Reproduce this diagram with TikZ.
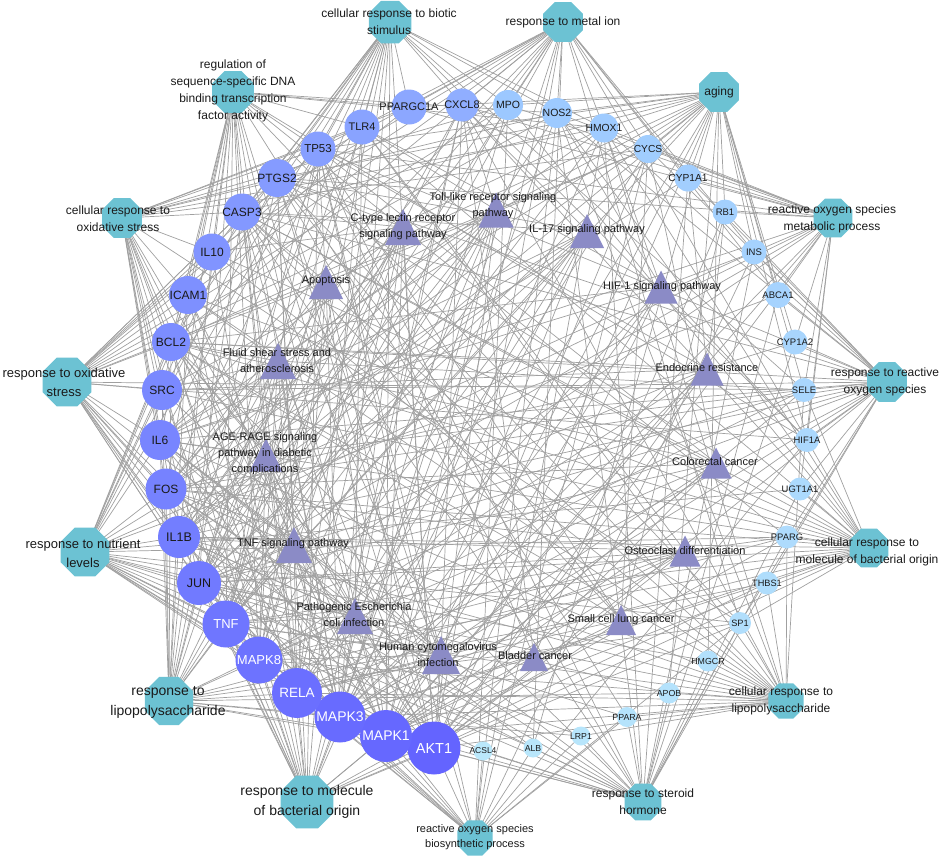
\documentclass[tikz,border=0pt]{standalone}
\usepackage{fontspec}
\setmainfont{Liberation Sans}
\usetikzlibrary{shapes.geometric}
\pgfdeclarelayer{background}
\pgfsetlayers{background,main}
\definecolor{octc}{HTML}{6CC2D3}
\definecolor{tric}{HTML}{8B8BC6}
\definecolor{gLa}{HTML}{6464FF}
\definecolor{gLb}{HTML}{90AEFF}
\definecolor{gRa}{HTML}{9CC8FF}
\definecolor{gRb}{HTML}{BAE8FB}
\definecolor{edgec}{HTML}{A0A0A0}
\definecolor{txtc}{HTML}{1A1A1A}
\begin{document}
\begin{tikzpicture}[x=1pt,y=-1pt,
  oct/.style={regular polygon, regular polygon sides=8, fill=octc, draw=none, inner sep=0pt},
  octtxt/.style={align=center, text=txtc, inner sep=0pt, font=\fontsize{12}{17}\selectfont},
  octbig/.style={font=\fontsize{14}{20}\selectfont},
  tri/.style={rectangle, draw=none, inner sep=0pt, path picture={\fill[tric] (path picture bounding box.south west) -- (path picture bounding box.north) -- (path picture bounding box.south east) -- cycle;}},
  tritxt/.style={align=center, text=txtc, inner sep=0pt, font=\fontsize{11}{16}\selectfont},
  gene/.style={circle, draw=none, inner sep=0pt},
  edge/.style={draw=edgec, line width=0.7pt}]
\useasboundingbox (0,0) rectangle (941,857);

% ---------- GO term octagons ----------
\node[oct, minimum size=46pt] (oBiotic) at (390,22) {};
\node[octtxt] (oBiotic-t) at (389,22) {cellular response to biotic\\stimulus};
\node[oct, minimum size=45pt] (oDNA) at (233,92) {};
\node[octtxt] (oDNA-t) at (233,91) {regulation of\\sequence-specific DNA\\binding transcription\\factor activity};
\node[oct, minimum size=43pt] (oMetal) at (563,22) {};
\node[octtxt] (oMetal-t) at (563,22) {response to metal ion};
\node[oct, minimum size=43pt] (oAging) at (719,92) {};
\node[octtxt] (oAging-t) at (719,92) {aging};
\node[oct, minimum size=43pt] (oCOx) at (122,218) {};
\node[octtxt] (oCOx-t) at (118,219) {cellular response to\\oxidative stress};
\node[oct, minimum size=42pt] (oROSmet) at (833,218) {};
\node[octtxt] (oROSmet-t) at (832,219) {reactive oxygen species\\metabolic process};
\node[oct, minimum size=53pt] (oOx) at (67,382) {};
\node[octtxt, font=\fontsize{13}{19}\selectfont] (oOx-t) at (64,382) {response to oxidative\\stress};
\node[oct, minimum size=43pt] (oROS) at (887,382) {};
\node[octtxt] (oROS-t) at (885,382) {response to reactive\\oxygen species};
\node[oct, minimum size=53pt] (oNutr) at (85,552) {};
\node[octtxt, font=\fontsize{13}{19}\selectfont] (oNutr-t) at (83,553) {response to nutrient\\levels};
\node[oct, minimum size=42pt] (oCMBO) at (869,548) {};
\node[octtxt] (oCMBO-t) at (867,552) {cellular response to\\molecule of bacterial origin};
\node[oct, minimum size=52pt] (oLPS) at (169,701) {};
\node[octtxt, octbig] (oLPS-t) at (168,702) {response to\\lipopolysaccharide};
\node[oct, minimum size=38pt] (oCLPS) at (786,701) {};
\node[octtxt] (oCLPS-t) at (781,701) {cellular response to\\lipopolysaccharide};
\node[oct, minimum size=57pt] (oMBO) at (307,802) {};
\node[octtxt, octbig] (oMBO-t) at (307,802) {response to molecule\\of bacterial origin};
\node[oct, minimum size=40pt] (oSteroid) at (643,802) {};
\node[octtxt] (oSteroid-t) at (643,802) {response to steroid\\hormone};
\node[oct, minimum size=38pt] (oROSbio) at (475,838) {};
\node[octtxt, font=\fontsize{11}{15}\selectfont] (oROSbio-t) at (475,837) {reactive oxygen species\\biosynthetic process};

% ---------- pathway triangles ----------
\foreach \n/\x/\y/\w in {tToll/496/210/35, tCtype/403/227/36, tIL17/587/231/34, tApop/326/282/34,
  tHIF/661/287/33, tFluid/278/361/36, tEndo/707/369/33, tAGE/266/455/33, tColo/716/463/31,
  tTNF/294/545/36, tOsteo/685/551/31, tPath/355/616/36, tSCLC/621/620/30, tHCMV/441/655/38,
  tBlad/534/657/28}{
  \node[tri, minimum width=\w pt, minimum height=\w pt] (\n) at (\x,\y) {};
}
\node[tritxt] (tToll-t) at (493,206) {Toll-like receptor signaling\\pathway};
\node[tritxt] (tCtype-t) at (403,227) {C-type lectin receptor\\signaling pathway};
\node[tritxt] (tIL17-t) at (587,230) {IL-17 signaling pathway};
\node[tritxt] (tApop-t) at (326,281) {Apoptosis};
\node[tritxt] (tHIF-t) at (662,287) {HIF-1 signaling pathway};
\node[tritxt] (tFluid-t) at (277,361) {Fluid shear stress and\\atherosclerosis};
\node[tritxt] (tEndo-t) at (707,368) {Endocrine resistance};
\node[tritxt] (tAGE-t) at (265,454) {AGE-RAGE signaling\\pathway in diabetic\\complications};
\node[tritxt] (tColo-t) at (715,462) {Colorectal cancer};
\node[tritxt] (tTNF-t) at (293,544) {TNF signaling pathway};
\node[tritxt] (tOsteo-t) at (685,551) {Osteoclast differentiation};
\node[tritxt] (tPath-t) at (354,615) {Pathogenic Escherichia\\coli infection};
\node[tritxt] (tSCLC-t) at (621,620) {Small cell lung cancer};
\node[tritxt] (tHCMV-t) at (438,655) {Human cytomegalovirus\\infection};
\node[tritxt] (tBlad-t) at (535,656) {Bladder cancer};

% ---------- genes, left spiral (dark blue) ----------
\foreach \n/\x/\y/\d/\f/\k/\tc in {AKT1/434/748/53/14.5/0/white, MAPK1/386/736/52/14/1/white,
  MAPK3/340/717/51/14/2/white, RELA/297/693/50/13.5/3/white, MAPK8/259/660/47/13/4/white,
  TNF/226/624/47/13/5/white, JUN/199/583/44/12.5/6/txtc, IL1B/179/537/42/12.5/7/txtc,
  FOS/166/489/41/12/8/txtc, IL6/160/440/40/12/9/txtc, SRC/162/390/40/12/10/txtc,
  BCL2/171/342/38/12/11/txtc, ICAM1/188/295/38/12/12/txtc, IL10/212/252/37/12/13/txtc,
  CASP3/242/212/37/12/14/txtc, PTGS2/277/178/38/12/15/txtc, TP53/318/149/35/11.5/16/txtc,
  TLR4/362/127/35/11/17/txtc, PPARGC1A/409/107/35/11/18/txtc, CXCL8/462/105/33/11/20/txtc}{
  \pgfmathtruncatemacro\pc{100-5*\k}
  \node[gene, minimum size=\d pt, fill=gLa!\pc!gLb] (\n) at (\x,\y) {};
  \node[inner sep=0pt, text=\tc, font=\fontsize{\f}{\f}\selectfont] (\n-t) at (\n) {\n};
}
% ---------- genes, right spiral (light blue) ----------
\foreach \n/\x/\y/\d/\f/\k in {MPO/508/105/30/10.5/0, NOS2/557/113/30/10.5/1, HMOX1/604/128/29/10.3/2,
  CYCS/648/149/28/10.2/3, CYP1A1/688/178/27/10.2/4, RB1/725/212/25/9.5/5, INS/754/252/25/9.5/6,
  ABCA1/778/295/26/9.5/7, CYP1A2/795/342/25/9.5/8, SELE/804/390/24/9.4/9, HIF1A/807/440/24/9.4/10,
  UGT1A1/800/489/23/9.4/11, PPARG/787/537/23/9.4/12, THBS1/767/583/23/9.2/13, SP1/740/623/22/9.2/14,
  HMGCR/708/661/21/8.8/15, APOB/669/693/21/8.8/16, PPARA/627/717/20/8.8/17, LRP1/581/736/19/8.7/18,
  ALB/533/748/19/8.7/19, ACSL4/483/751/19/8.5/20}{
  \pgfmathtruncatemacro\pc{100-5*\k}
  \node[gene, minimum size=\d pt, fill=gRa!\pc!gRb] (\n) at (\x,\y) {};
  \node[inner sep=0pt, text=txtc, font=\fontsize{\f}{\f}\selectfont] (\n-t) at (\n) {\n};
}

% ---------- edges ----------
\begin{pgfonlayer}{background}
\foreach \a/\l in {
 oBiotic/{TLR4,PPARGC1A,CXCL8,TP53,PTGS2,CASP3,IL10,ICAM1,BCL2,SRC,IL6,FOS,IL1B,JUN,TNF,MAPK8,RELA,MAPK3,MAPK1,AKT1,NOS2,HMOX1,MPO,SELE,HIF1A},
 oDNA/{PPARGC1A,TLR4,TP53,CASP3,IL10,ICAM1,BCL2,SRC,IL6,FOS,IL1B,JUN,TNF,MAPK8,RELA,MAPK3,MAPK1,AKT1,HIF1A,PPARG,SP1,PPARA,NOS2,HMOX1},
 oMetal/{CXCL8,MPO,NOS2,HMOX1,CYCS,CYP1A1,TP53,PTGS2,CASP3,IL10,ICAM1,BCL2,IL6,TNF,AKT1,MAPK1,MAPK3,JUN,FOS,SP1,INS,ALB,HIF1A,ABCA1,PPARGC1A,IL1B},
 oAging/{CYCS,CYP1A1,RB1,INS,SELE,MPO,NOS2,HMOX1,TP53,PTGS2,CASP3,IL6,IL1B,TNF,AKT1,MAPK1,MAPK3,BCL2,SRC,FOS,JUN,PPARGC1A,HIF1A,APOB,HMGCR,ABCA1,CYP1A2,ALB},
 oCOx/{PTGS2,TP53,TLR4,CASP3,IL10,ICAM1,BCL2,SRC,IL6,FOS,JUN,TNF,MAPK8,RELA,MAPK3,MAPK1,AKT1,PPARGC1A,HMOX1,NOS2,MPO,CYCS,SP1,IL1B},
 oROSmet/{CYP1A1,RB1,INS,ABCA1,CYP1A2,SELE,CYCS,HMOX1,NOS2,MPO,TNF,AKT1,MAPK1,MAPK3,JUN,IL6,IL1B,PPARGC1A,HIF1A,PTGS2,CXCL8,TP53,UGT1A1},
 oOx/{SRC,BCL2,ICAM1,IL10,CASP3,PTGS2,TP53,TLR4,IL6,FOS,IL1B,JUN,TNF,MAPK8,RELA,MAPK3,MAPK1,AKT1,HMOX1,NOS2,MPO,CYCS,PPARGC1A,SELE,HIF1A,ALB},
 oROS/{SELE,CYP1A2,ABCA1,INS,RB1,CYP1A1,CYCS,HMOX1,NOS2,HIF1A,UGT1A1,PPARG,THBS1,SP1,TNF,AKT1,MAPK1,MAPK3,RELA,IL6,IL1B,JUN,FOS,SRC,BCL2,TP53,CASP3,PTGS2},
 oNutr/{IL1B,FOS,IL6,SRC,BCL2,ICAM1,IL10,CASP3,PTGS2,TP53,JUN,TNF,MAPK8,RELA,MAPK3,MAPK1,AKT1,INS,HMGCR,APOB,PPARA,LRP1,ALB,ACSL4,PPARG,SP1,ABCA1,CYP1A1,UGT1A1},
 oCMBO/{PPARG,THBS1,UGT1A1,HIF1A,SELE,SP1,TNF,IL6,IL1B,IL10,TLR4,CXCL8,RELA,MAPK1,MAPK3,MAPK8,AKT1,JUN,FOS,PTGS2,CASP3,NOS2,HMOX1,ICAM1,BCL2,SRC,MPO},
 oLPS/{TNF,MAPK8,RELA,MAPK3,MAPK1,AKT1,JUN,IL1B,FOS,IL6,SRC,BCL2,ICAM1,IL10,CASP3,PTGS2,TP53,TLR4,CXCL8,NOS2,HMOX1,MPO,SELE,THBS1,SP1,PPARG,APOB,LRP1},
 oCLPS/{SP1,HMGCR,APOB,PPARA,THBS1,PPARG,TNF,IL6,IL1B,IL10,TLR4,CXCL8,RELA,MAPK1,MAPK3,MAPK8,AKT1,JUN,FOS,PTGS2,CASP3,NOS2,HMOX1,ICAM1,BCL2,SELE,LRP1},
 oMBO/{AKT1,MAPK1,MAPK3,RELA,MAPK8,TNF,JUN,IL1B,FOS,IL6,SRC,BCL2,ICAM1,IL10,CASP3,PTGS2,TP53,TLR4,CXCL8,NOS2,HMOX1,MPO,SELE,THBS1,SP1,PPARG},
 oSteroid/{ALB,LRP1,PPARA,APOB,HMGCR,SP1,THBS1,PPARG,ACSL4,AKT1,MAPK1,MAPK3,RELA,TNF,IL6,IL1B,JUN,FOS,BCL2,CASP3,PTGS2,TP53,CYP1A1,CYP1A2,UGT1A1,INS,ABCA1,HMOX1,NOS2},
 oROSbio/{ACSL4,ALB,LRP1,AKT1,MAPK1,MAPK3,RELA,TNF,MAPK8,IL6,IL1B,JUN,NOS2,MPO,HMOX1,CYCS,PTGS2,TP53,INS,PPARA,SP1,HIF1A},
 tToll/{TLR4,CXCL8,TNF,IL6,IL1B,RELA,MAPK8,MAPK3,MAPK1,AKT1,FOS,JUN},
 tCtype/{IL10,IL6,IL1B,TNF,PTGS2,RELA,MAPK8,MAPK3,MAPK1,AKT1,JUN,CASP3},
 tIL17/{CXCL8,TNF,IL6,IL1B,PTGS2,RELA,MAPK8,MAPK3,MAPK1,JUN,FOS,CASP3},
 tApop/{TP53,CASP3,BCL2,TNF,RELA,MAPK8,MAPK3,MAPK1,AKT1,JUN,FOS,CYCS},
 tHIF/{HIF1A,HMOX1,NOS2,INS,IL6,RELA,MAPK3,MAPK1,AKT1,TLR4,BCL2},
 tFluid/{TP53,ICAM1,BCL2,SRC,IL1B,JUN,FOS,TNF,MAPK8,RELA,AKT1,HMOX1,SELE,MAPK3},
 tEndo/{BCL2,SRC,JUN,FOS,MAPK8,MAPK3,MAPK1,AKT1,RB1,TP53,CYP1A1,CYP1A2},
 tAGE/{ICAM1,BCL2,CASP3,IL6,IL1B,JUN,TNF,MAPK8,RELA,MAPK3,MAPK1,AKT1,SELE,CXCL8},
 tColo/{TP53,BCL2,CASP3,JUN,FOS,MAPK8,MAPK3,MAPK1,AKT1,CYCS},
 tTNF/{TNF,MAPK8,RELA,MAPK3,MAPK1,AKT1,JUN,FOS,IL1B,IL6,ICAM1,CASP3,PTGS2,SELE},
 tOsteo/{TNF,IL1B,JUN,FOS,MAPK8,RELA,MAPK3,MAPK1,AKT1,PPARG,TLR4},
 tPath/{TLR4,CXCL8,TNF,IL6,IL1B,CASP3,RELA,MAPK8,MAPK3,MAPK1,JUN,FOS,BCL2,CYCS},
 tSCLC/{TP53,BCL2,PTGS2,RELA,AKT1,CYCS,RB1,CASP3,MAPK1},
 tHCMV/{TP53,CASP3,IL6,IL1B,CXCL8,TNF,JUN,RELA,MAPK8,MAPK3,MAPK1,AKT1,PTGS2,SRC,CYCS,BCL2},
 tBlad/{TP53,MAPK3,MAPK1,RB1,THBS1,CXCL8}}{
  \foreach \b in \l {\draw[edge] (\a.center) -- (\b.center);}
}
\end{pgfonlayer}
\end{tikzpicture}
\end{document}
